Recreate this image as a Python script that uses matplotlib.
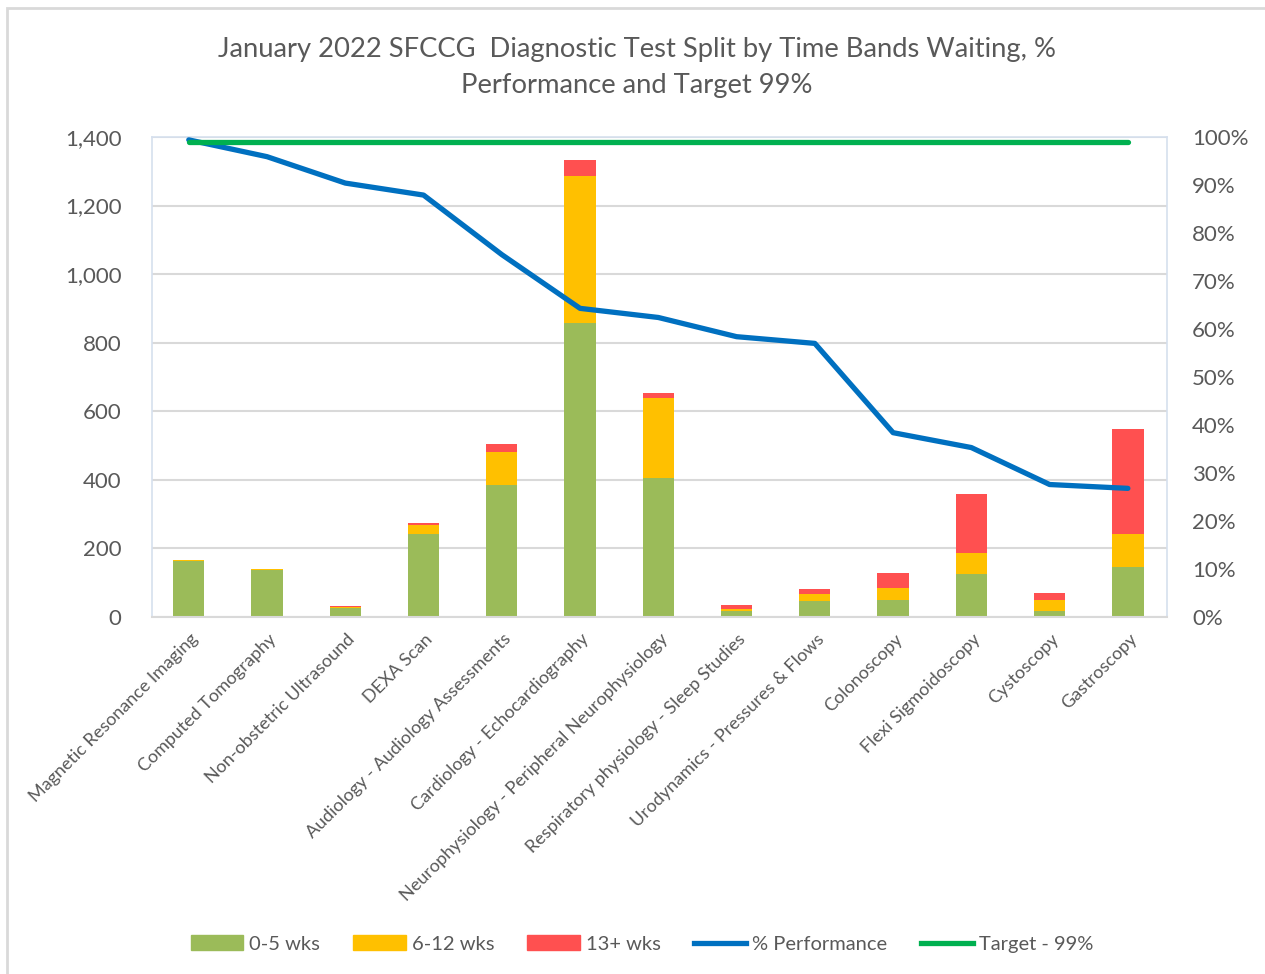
import matplotlib
matplotlib.use("Agg")
import matplotlib.pyplot as plt
import matplotlib.transforms as mtrans
from matplotlib.patches import Patch, Rectangle
from matplotlib.lines import Line2D
from matplotlib.ticker import FuncFormatter, MultipleLocator
import numpy as np

plt.rcParams['font.family'] = ['Lato', 'DejaVu Sans']

categories = ["Magnetic Resonance Imaging", "Computed Tomography", "Non-obstetric Ultrasound",
              "DEXA Scan", "Audiology - Audiology Assessments", "Cardiology - Echocardiography",
              "Neurophysiology - Peripheral Neurophysiology", "Respiratory physiology - Sleep Studies",
              "Urodynamics - Pressures & Flows", "Colonoscopy", "Flexi Sigmoidoscopy",
              "Cystoscopy", "Gastroscopy"]
wks_0_5 = [163, 137, 25, 241, 385, 857, 406, 17, 47, 50, 125, 17, 147]
wks_6_12 = [3, 2, 3, 28, 97, 429, 234, 6, 21, 36, 62, 33, 94]
wks_13 = [0, 0, 4, 4, 24, 47, 12, 12, 14, 43, 173, 21, 306]
performance = [0.994, 0.959, 0.904, 0.879, 0.755, 0.643, 0.624, 0.584, 0.570, 0.384, 0.353, 0.276, 0.268]
target = [0.99] * len(categories)

c_green = "#9BBB59"
c_yellow = "#FFC000"
c_red = "#FF5050"
c_blue = "#0070C0"
c_target = "#00B050"
txt = "#595959"

fig = plt.figure(figsize=(12.65, 9.74), dpi=100)
# outer chart border
fig.add_artist(Rectangle((7 / 1265, -0.1), 1.2, 1 - 8 / 974 + 0.1, transform=fig.transFigure,
                         fill=False, edgecolor="#D9D9D9", linewidth=2))

ax = fig.add_axes([152 / 1265, 1 - 617 / 974, (1167 - 152) / 1265, (617 - 137) / 974])
x = np.arange(len(categories))
w = 0.40
a = np.array(wks_0_5)
b = np.array(wks_6_12)
c = np.array(wks_13)
ax.bar(x, a, w, color=c_green, zorder=2)
ax.bar(x, b, w, bottom=a, color=c_yellow, zorder=2)
ax.bar(x, c, w, bottom=a + b, color=c_red, zorder=2)

ax.set_ylim(0, 1400)
ax.set_xlim(-0.47, 12.5)
ax.yaxis.set_major_locator(MultipleLocator(200))
ax.yaxis.set_major_formatter(FuncFormatter(lambda v, p: f"{int(v):,}"))
ax.grid(axis="y", color="#D9D9D9", linewidth=1.5, zorder=0)
ax.set_axisbelow(True)
for s in ["left", "right", "top"]:
    ax.spines[s].set_color("#D6E0EE")
    ax.spines[s].set_linewidth(1.2)
ax.spines["bottom"].set_color("#D9D9D9")
ax.spines["bottom"].set_linewidth(1.5)
ax.tick_params(axis="y", length=0, pad=22, labelsize=16, labelcolor=txt)
ax.tick_params(axis="x", length=0, pad=10)
ax.set_xticks(x)
ax.set_xticklabels(categories, rotation=45, ha="right", va="top", rotation_mode="anchor",
                   fontsize=13, color=txt)
off = mtrans.ScaledTranslation(1 / 100, 0, fig.dpi_scale_trans)
for lab in ax.get_xticklabels():
    lab.set_transform(lab.get_transform() + off)

ax2 = ax.twinx()
ax2.plot(x, performance, color=c_blue, linewidth=3.8, solid_capstyle="round", zorder=3)
ax2.plot(x, target, color=c_target, linewidth=3.8, solid_capstyle="round", zorder=3)
ax2.set_ylim(0, 1.0)
ax2.yaxis.set_major_locator(MultipleLocator(0.1))
ax2.yaxis.set_major_formatter(FuncFormatter(lambda v, p: f"{v * 100:.0f}%"))
ax2.tick_params(axis="y", length=0, pad=18, labelsize=16, labelcolor=txt)
for s in ax2.spines.values():
    s.set_visible(False)

fig.text(637 / 1265, 1 - 68 / 974,
         "January 2022 SFCCG  Diagnostic Test Split by Time Bands Waiting, %\nPerformance and Target 99%",
         ha="center", va="center", fontsize=19.7, color=txt, linespacing=1.55)

handles = [Patch(color=c_green), Patch(color=c_yellow), Patch(color=c_red),
           Line2D([], [], color=c_blue, linewidth=3.8),
           Line2D([], [], color=c_target, linewidth=3.8)]
labels = ["0-5 wks", "6-12 wks", "13+ wks", "% Performance", "Target - 99%"]
fig.legend(handles, labels, loc="center", bbox_to_anchor=(642 / 1265, 1 - 944 / 974), ncol=5,
           frameon=False, fontsize=14.5, labelcolor=txt, handlelength=2.6, handletextpad=0.3,
           columnspacing=1.65)

fig.savefig("out.png", dpi=100)
